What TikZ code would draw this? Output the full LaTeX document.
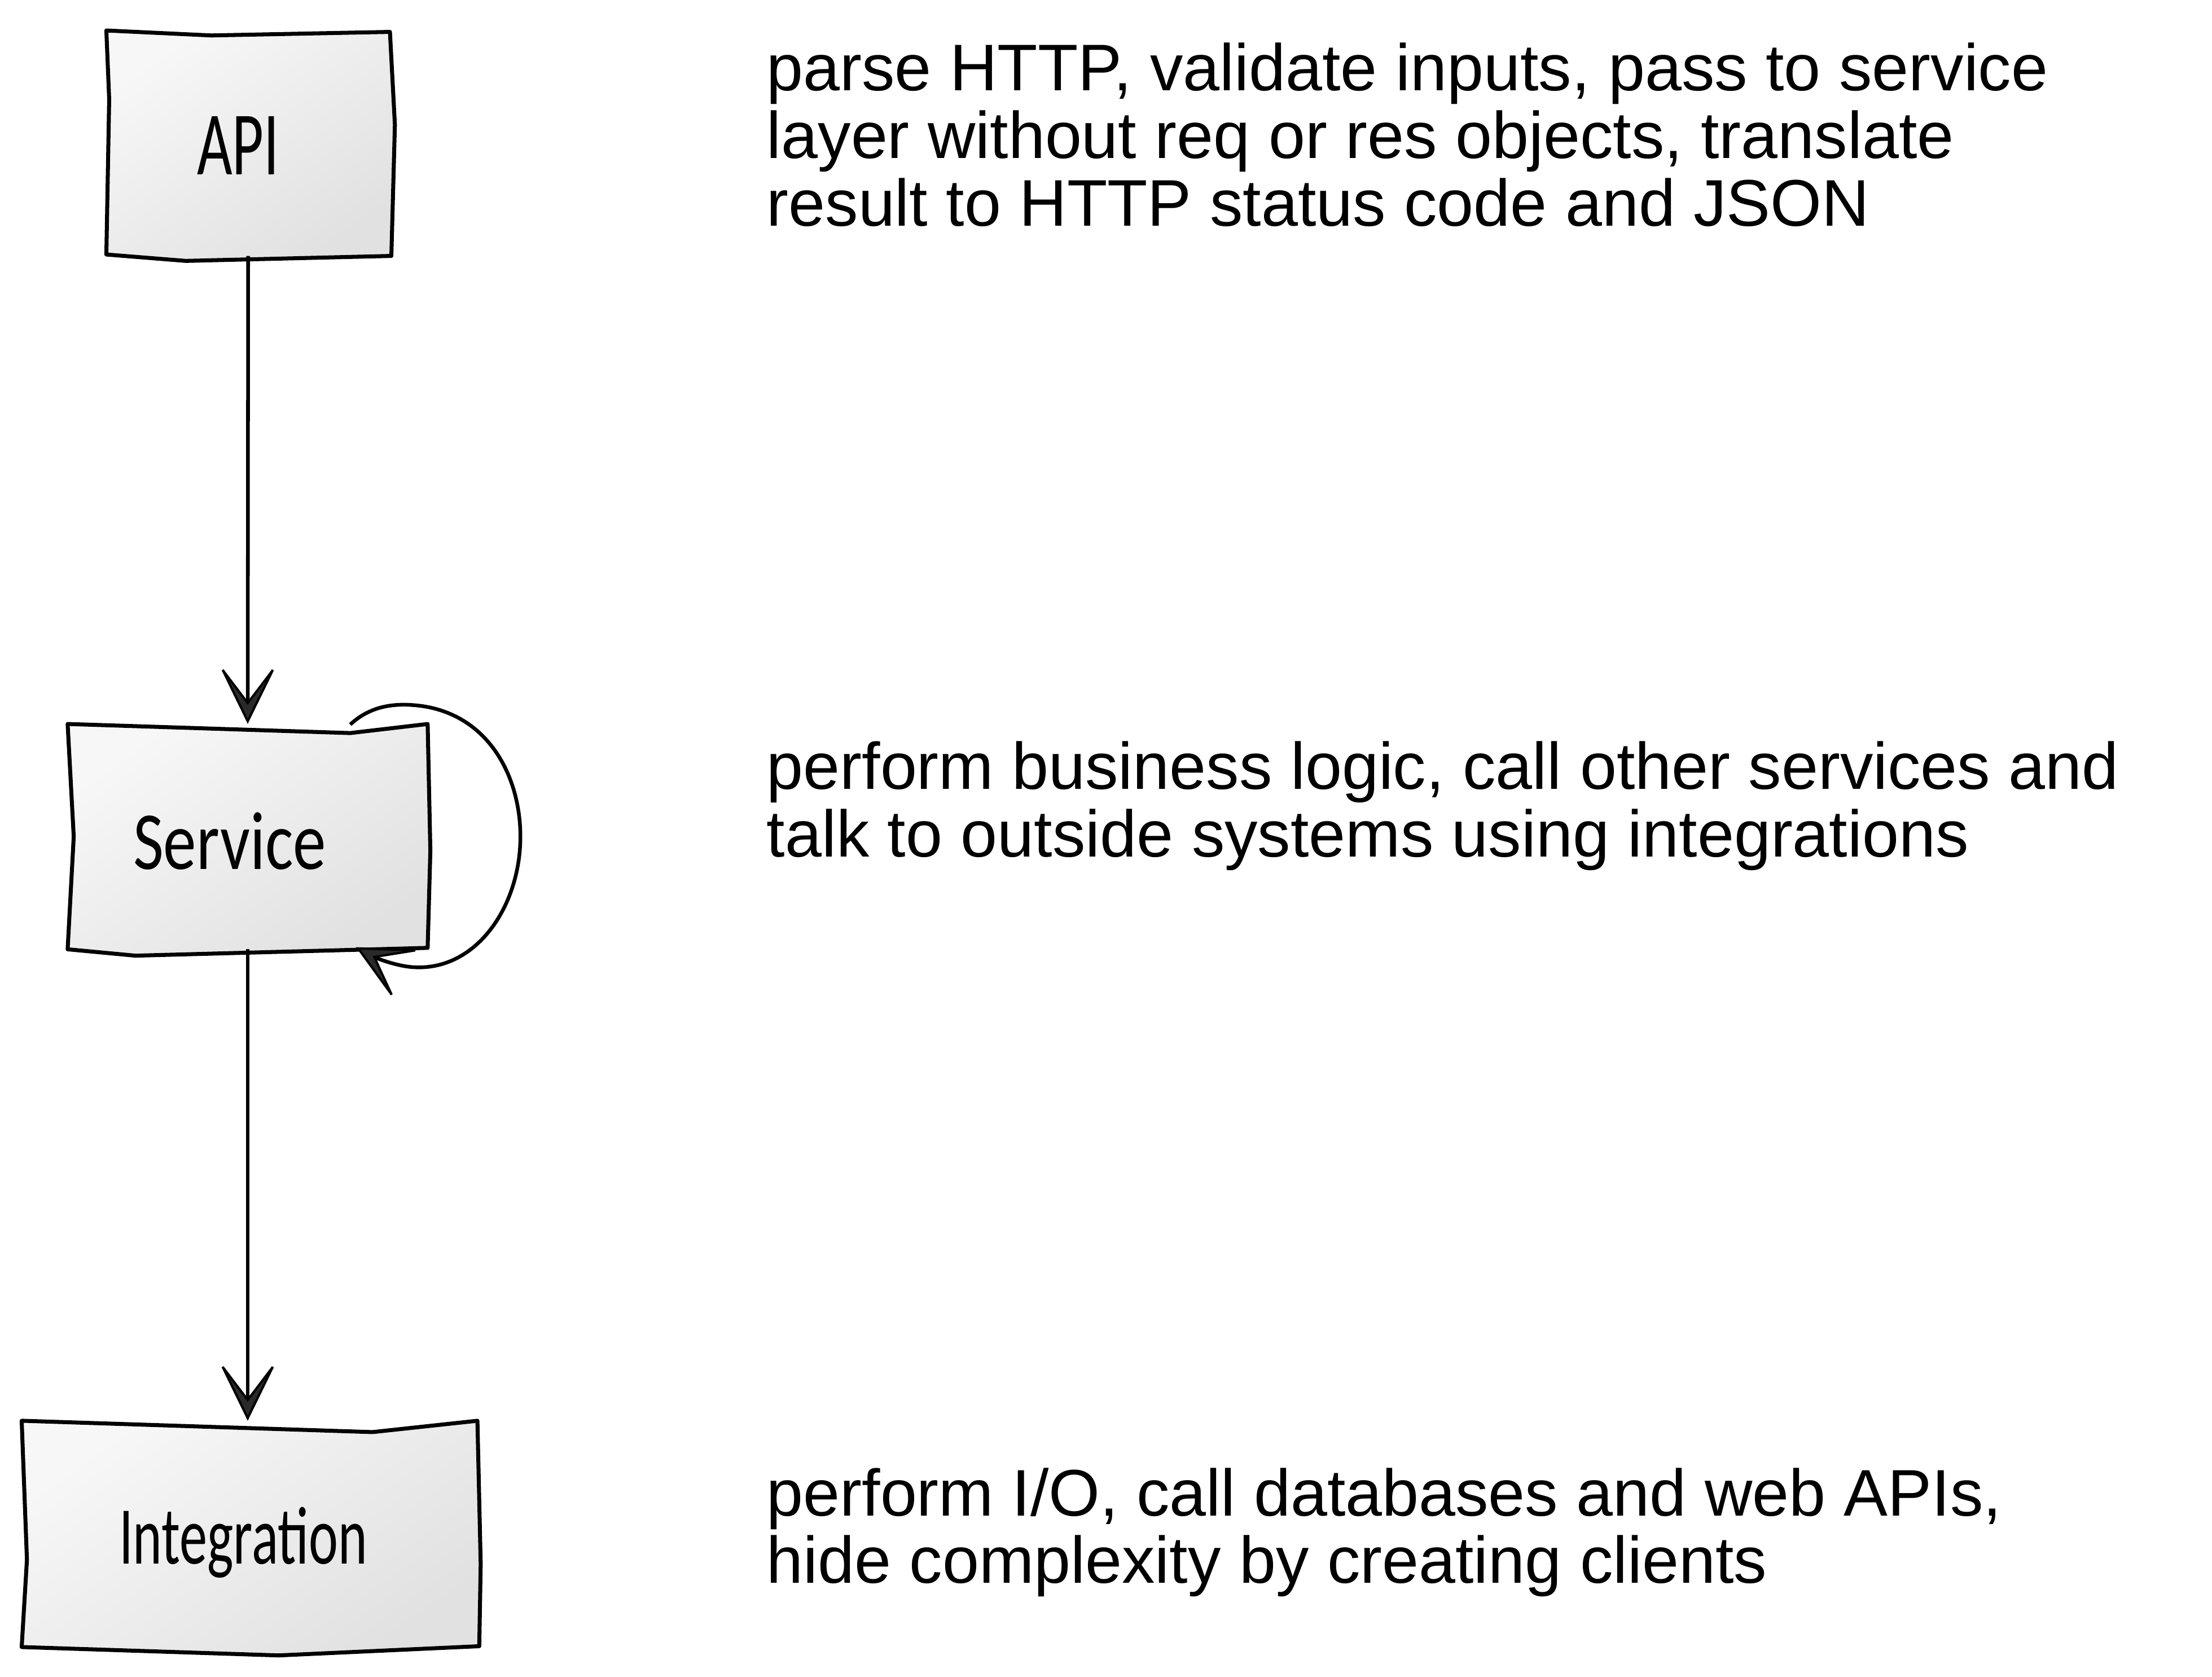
\documentclass[tikz,border=0pt]{standalone}
\usepackage{fontspec}
\setmainfont{Liberation Sans}
\newfontfamily\handfont{Carlito}
\usetikzlibrary{arrows.meta}
\definecolor{boxtop}{HTML}{F7F7F7}
\definecolor{boxbot}{HTML}{E1E1E1}
\definecolor{headfill}{HTML}{2A2A2A}
\tikzset{
  boxarea/.style={inner sep=0pt, outer sep=0pt, draw=none},
  boxedge/.style={draw=black, line width=2.8pt, line join=round, top color=boxtop, bottom color=boxbot, shading angle=35},
  handlabel/.style={inner sep=0pt, anchor=base},
  desc/.style={inner sep=0pt, anchor=base west, text=black, font=\fontsize{46.5pt}{47.6pt}\selectfont},
  headtip/.tip={Stealth[length=45pt, width=44pt, inset=29pt, fill=headfill, line width=1.6pt]},
  conn/.style={draw=black, line width=2.6pt, -{headtip}},
}
\newcommand{\handtext}[3]{\resizebox{#1}{#2}{\handfont #3}}
\begin{document}
\begin{tikzpicture}[x=1pt,y=-1pt]
\useasboundingbox (0,0) rectangle (1560,1182.7);

% box outlines
\path[boxedge] (75,21.5) -- (149,25) -- (275,22.5) -- (278.5,88) -- (276,180.5) -- (131,184) -- (75,179.5) -- (77,70) -- cycle;
\path[boxedge] (47.7,510.6) -- (247,517) -- (301.6,510.6) -- (303.5,600) -- (301.6,668.5) -- (95.5,674) -- (47.7,669.5) -- (52,590) -- cycle;
\path[boxedge] (15.3,1002) -- (262.7,1010) -- (336.7,1002) -- (339,1103) -- (338,1161) -- (196.5,1167.5) -- (15.3,1161.6) -- (19,1100) -- cycle;

% box nodes
\node[boxarea, minimum width=200pt, minimum height=159pt] (api) at (175,101) {};
\node[boxarea, minimum width=254pt, minimum height=159pt] (svc) at (174.7,590) {};
\node[boxarea, minimum width=322pt, minimum height=159.6pt] (int) at (176,1081.8) {};

% labels
\node[handlabel] (apil) at (168,123) {\handtext{58pt}{41pt}{API}};
\node[handlabel] (svcl) at (162,613) {\handtext{136pt}{40pt}{Service}};
\node[handlabel] (intl) at (171.5,1103) {\handtext{175pt}{40pt}{Integration}};

% connectors
\draw[conn] (api.south) -- (svc.north);
\draw[conn] (svc.south) -- (svc.south |- int.north);

\coordinate (loopstart) at (247,511);
\coordinate (loopend) at (251,668);
\draw[conn] (loopstart) .. controls (262,497) and (280,495.5) .. (298,498)
  .. controls (345,505) and (367,548) .. (367,590)
  .. controls (367,640) and (335,686) .. (290,682)
  .. controls (279,681) and (266,676) .. (loopend);

% descriptions
\node[desc] (d1) at (540.5,64) {\vtop{\hbox{parse HTTP, validate inputs, pass to service}\hbox{layer without req or res objects, translate}\hbox{result to HTTP status code and JSON}}};
\node[desc] (d2) at (540.5,556.7) {\vtop{\hbox{perform business logic, call other services and}\hbox{talk to outside systems using integrations}}};
\node[desc] (d3) at (540.5,1069) {\vtop{\hbox{perform I/O, call databases and web APIs,}\hbox{hide complexity by creating clients}}};
\end{tikzpicture}
\end{document}
